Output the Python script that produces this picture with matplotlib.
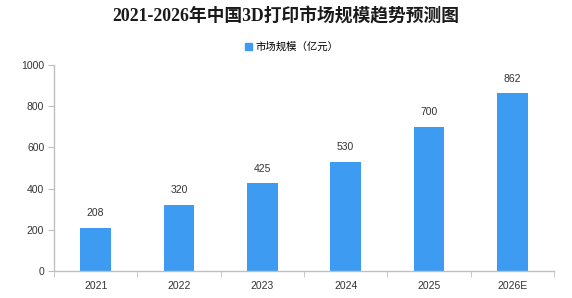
import matplotlib
matplotlib.use('Agg')
import matplotlib.pyplot as plt
import matplotlib.patches as mpatches
import numpy as np

plt.rcParams['font.family'] = ['Liberation Sans', 'Noto Sans CJK SC', 'DejaVu Sans']

years = ["2021", "2022", "2023", "2024", "2025", "2026E"]
values = [208, 320, 425, 530, 700, 862]
bar_color = "#3D9CF2"
axis_color = "#BFBFBF"

fig = plt.figure(figsize=(5.72, 2.98), dpi=100)
ax = fig.add_axes([54/572, 1 - 271/298, 500/572, 206/298])

x = np.arange(len(years))
ax.bar(x, values, width=0.37, color=bar_color)
for xi, v in zip(x, values):
	ax.text(xi, v + 48, str(v), ha='center', va='bottom', fontsize=7.5, color='#333333')

ax.set_xlim(-0.5, len(years) - 0.5)
ax.set_ylim(0, 1000)
ax.set_yticks(np.arange(0, 1001, 200))
ax.set_xticks(x)
ax.set_xticklabels(years)
ax.set_xticks(np.arange(-0.5, len(years), 1.0), minor=True)
ax.tick_params(axis='x', which='major', length=0, pad=7, labelsize=7.5, labelcolor='#333333')
ax.tick_params(axis='x', which='minor', length=4, color=axis_color, direction='out')
ax.tick_params(axis='y', length=4, color=axis_color, labelsize=7.5, labelcolor='#333333', pad=3)

for s in ['top', 'right']:
	ax.spines[s].set_visible(False)
for s in ['left', 'bottom']:
	ax.spines[s].set_color(axis_color)
	ax.spines[s].set_linewidth(1.0)

fig.text(0.5, 1 - 16/298, "2021-2026年中国3D打印市场规模趋势预测图", ha='center', va='center',
	fontsize=12.8, fontweight='bold', color='#1a1a1a',
	family=['Liberation Serif', 'Noto Sans CJK SC', 'DejaVu Sans'])

handle = mpatches.Patch(color=bar_color, label='市场规模（亿元）')
fig.legend(handles=[handle], loc='center', bbox_to_anchor=(0.51, 1 - 47/298), frameon=False,
	prop={'family': ['Noto Sans CJK SC', 'DejaVu Sans'], 'size': 7.5},
	handlelength=0.7, handleheight=0.7, handletextpad=0.3)

fig.savefig('out.png', dpi=100)
